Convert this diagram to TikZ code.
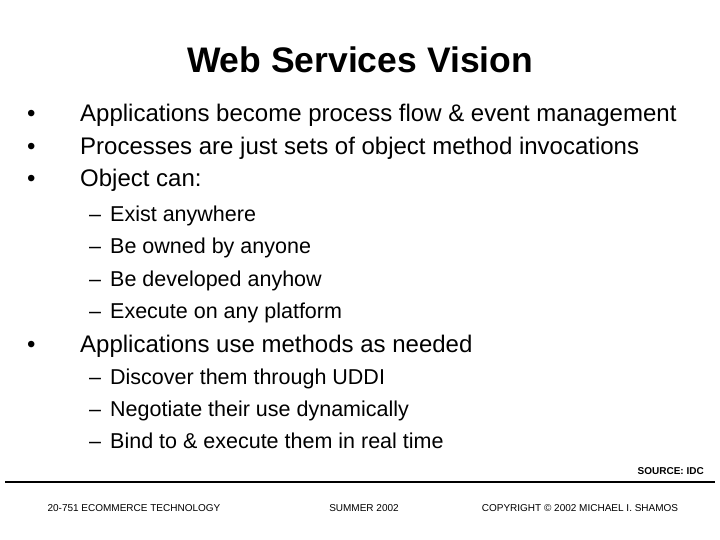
\documentclass[tikz,border=0pt]{standalone}
\usepackage{fontspec}
\setmainfont{Liberation Sans}
\usetikzlibrary{positioning}
\tikzset{
  bul/.style={anchor=base west, inner sep=0pt, font=\fontsize{24}{27}\selectfont},
  sub/.style={anchor=base west, inner sep=0pt, font=\fontsize{21.5}{24}\selectfont},
  foot/.style={anchor=base, inner sep=0pt, font=\fontsize{10}{11}\selectfont}
}
\begin{document}
\begin{tikzpicture}[x=1pt,y=-1pt]
\useasboundingbox (0,0) rectangle (720,540);
\node[anchor=base, inner sep=0pt, font=\bfseries\fontsize{35.5}{40}\selectfont] (title) at (360,73) {Web Services Vision};
% main bullets
\node[bul] (b1) at (27,122) {\makebox[53pt][l]{\textbullet}Applications become process flow \& event management};
\node[bul] (b2) at (27,155) {\makebox[53pt][l]{\textbullet}Processes are just sets of object method invocations};
\node[bul] (b3) at (27,187) {\makebox[53pt][l]{\textbullet}Object can:};
\node[sub] (s1) at (89,222) {\makebox[21pt][l]{--}Exist anywhere};
\node[sub] (s2) at (89,254) {\makebox[21pt][l]{--}Be owned by anyone};
\node[sub] (s3) at (89,286) {\makebox[21pt][l]{--}Be developed anyhow};
\node[sub] (s4) at (89,318) {\makebox[21pt][l]{--}Execute on any platform};
\node[bul] (b4) at (27,352) {\makebox[53pt][l]{\textbullet}Applications use methods as needed};
\node[sub] (s5) at (89,384) {\makebox[21pt][l]{--}Discover them through UDDI};
\node[sub] (s6) at (89,416) {\makebox[21pt][l]{--}Negotiate their use dynamically};
\node[sub] (s7) at (89,448) {\makebox[21pt][l]{--}Bind to \& execute them in real time};
% footer
\node[anchor=base east, inner sep=0pt, font=\bfseries\fontsize{10}{11}\selectfont] (src) at (704,474) {SOURCE: IDC};
\coordinate (l1) at (5,482);
\coordinate (l2) at (715,482);
\draw[line width=1.2pt] (l1) -- (l2);
\node[foot] (f1) at (134,511) {20-751 ECOMMERCE TECHNOLOGY};
\node[foot] (f2) at (364,511) {SUMMER 2002};
\node[foot] (f3) at (580,511) {COPYRIGHT \textcopyright\ 2002 MICHAEL I. SHAMOS};
\end{tikzpicture}
\end{document}
